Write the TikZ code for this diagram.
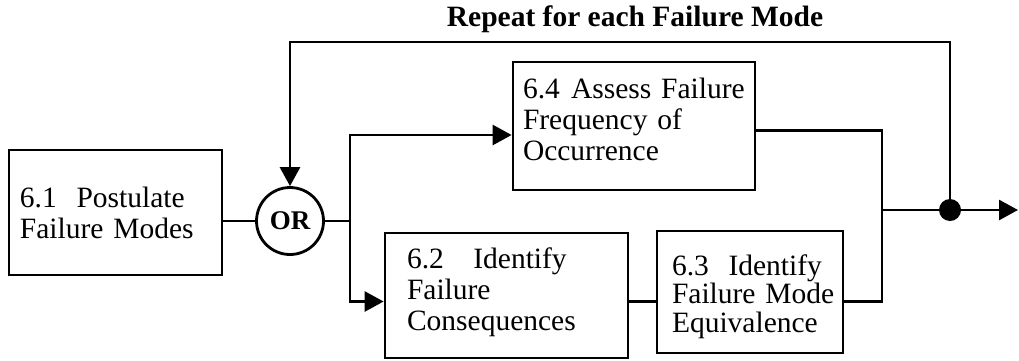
\documentclass[tikz,border=0pt]{standalone}
\usepackage{fontspec}
\setmainfont{Liberation Serif}
\usetikzlibrary{arrows.meta}
\newcommand\procfont{\fontsize{29.5bp}{31bp}\selectfont}
\newcommand\tightprocfont{\fontsize{29.5bp}{28.5bp}\selectfont}
\newcommand\orfont{\fontsize{27bp}{28bp}\selectfont\bfseries}
\newcommand\headfont{\fontsize{29.5bp}{30bp}\selectfont\bfseries}
% invisible struts that pad the first line up or the last line down
\newcommand\uppad[1]{\rule{0pt}{#1}}
\newcommand\downpad[1]{\rule[-#1]{0pt}{#1}}
\begin{document}
\begin{tikzpicture}[x=1bp, y=-1bp, line width=2.8bp,
  tip/.style={-{Triangle[length=19bp, width=20bp]}},
  procbox/.style={draw, rectangle, align=left, inner ysep=0pt, font=\procfont},
  gate/.style={draw, circle, minimum size=67bp, inner sep=0pt, font=\orfont},
  joint/.style={circle, fill, minimum size=22bp, inner sep=0pt}]
\useasboundingbox (0,0) rectangle (1019,360);

% process boxes
\node[procbox, text width=191bp, inner xsep=11bp, minimum height=125bp] (b61) at (115.5,212.5)
  {6.1\ \ Postulate\\Failure Modes};
\node[procbox, text width=222bp, inner xsep=10bp, minimum height=128bp] (b64) at (634,126)
  {\mbox{6.4\hspace{0.38em}Assess Failure}\\Frequency of\\Occurrence\downpad{14bp}};
\node[procbox, text width=199bp, inner xsep=22bp, minimum height=125bp] (b62) at (506.5,295.5)
  {6.2\ \ \ Identify\\Failure\\Consequences\downpad{13.4bp}};
\node[procbox, font=\tightprocfont, text width=156bp, inner xsep=15bp, minimum height=122bp] (b63) at (750,292)
  {\uppad{29.4bp}6.3\ \ Identify\\\mbox{Failure Mode}\\Equivalence};

% OR gate and junction
\node[gate] (orn) at (290,221) {OR};
\node[joint] (dot) at (950,210) {};

\coordinate (split) at (350,221);
\coordinate (merge) at (882,210);
\coordinate (out) at (1018,210);
\coordinate (fbtop) at (950,42);
\coordinate (low) at ([yshift=-6bp]b62.west);

% forward flow
\draw (b61.east |- orn.west) -- (orn.west);
\draw (orn.east) -- (split);
\draw[tip] (split) |- ([yshift=-9bp]b64.west);
\draw[tip] (split) |- (low);
\draw (b62.east |- low) -- (b63.west |- low);
\draw ([yshift=-4.5bp]b64.east) -| (merge);
\draw (b63.east |- low) -| (merge);
\draw (merge) -- (dot.center);
\draw[tip] (dot.center) -- (out);

% feedback loop
\draw[tip] (dot.center) -- (fbtop) -| (orn.north);
\node[font=\headfont, anchor=base] (title) at (635,26) {Repeat for each Failure Mode};
\end{tikzpicture}
\end{document}
